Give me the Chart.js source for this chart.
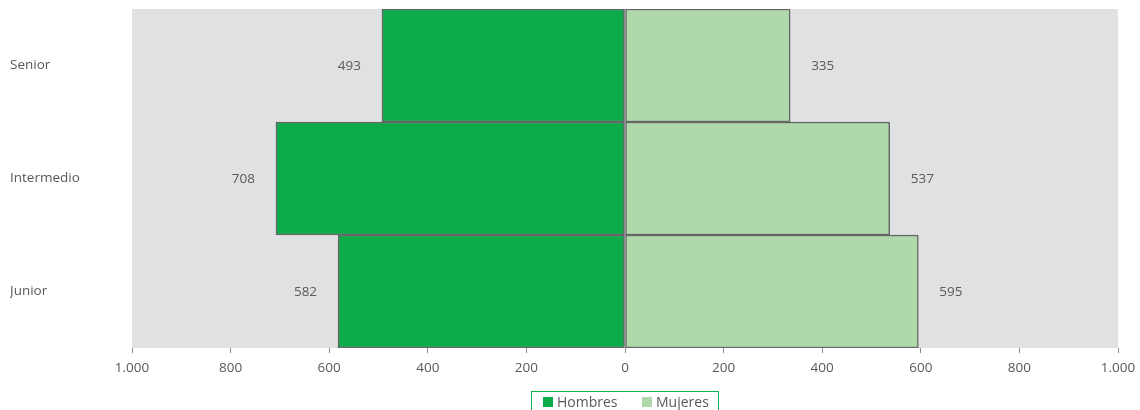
<!DOCTYPE html>
<html>
<head>
<meta charset="utf-8">
<script src="https://cdn.jsdelivr.net/npm/chart.js@4.4.0/dist/chart.umd.min.js"></script>
<style>
  html, body { margin: 0; padding: 0; background: #fff; overflow: hidden; }
  #wrap { width: 1140px; height: 410px; position: relative; }
  #legend {
    position: absolute; left: 531px; top: 391px; width: 188px; height: 26px;
    border: 1px solid #10b04c; box-sizing: border-box; z-index: 2;
    font: 14px 'Open Sans', 'Liberation Sans', sans-serif; color: #595959;
  }
  #legend span { position: absolute; top: 0px; line-height: 19px; white-space: nowrap; }
  #legend i { display: inline-block; width: 10px; height: 10px; margin-right: 4px; }
</style>
</head>
<body>
<div id="wrap">
  <canvas id="pyramid"></canvas>
  <div id="legend"></div>
</div>
<script>
// Data
const categories = ['Senior', 'Intermedio', 'Junior'];
const hombres = [493, 708, 582];
const mujeres = [335, 537, 595];
const seriesNames = ['Hombres', 'Mujeres'];
const seriesColors = ['#0dab4a', '#afd8ab'];
const xTicks = [-1000, -800, -600, -400, -200, 0, 200, 400, 600, 800, 1000];

const TEXT = '#595959';
const FONT = "'Open Sans', 'Liberation Sans', sans-serif";
const FSIZE = 13.5;

function fmt(v) {
    return Math.abs(v).toLocaleString('de-DE');
}

// grey plot background
const plotBg = {
    id: 'plotBg',
    beforeDraw(chart) {
        const a = chart.chartArea, c = chart.ctx;
        c.save();
        c.fillStyle = '#e0e1e3';
        c.fillRect(a.left, a.top, a.right - a.left, a.bottom - a.top);
        c.restore();
    }
};

// value labels just outside each bar end
const endLabels = {
    id: 'endLabels',
    afterDatasetsDraw(chart) {
        const c = chart.ctx;
        c.save();
        c.font = FSIZE + 'px ' + FONT;
        c.fillStyle = TEXT;
        c.textBaseline = 'middle';
        chart.data.datasets.forEach((ds, i) => {
            chart.getDatasetMeta(i).data.forEach((bar, j) => {
                const v = ds.data[j];
                if (v < 0) {
                    c.textAlign = 'right';
                    c.fillText(fmt(v), bar.x - 21, bar.y + 1);
                } else {
                    c.textAlign = 'left';
                    c.fillText(fmt(v), bar.x + 21, bar.y + 1);
                }
            });
        });
        c.restore();
    }
};

// legend as html, same names and colours as the datasets
const legendOffsets = [11, 110];
document.getElementById('legend').innerHTML = seriesNames.map((n, i) =>
    `<span style="left:${legendOffsets[i]}px"><i style="background:${seriesColors[i]}"></i>${n}</span>`
).join('');

const ctx = document.getElementById('pyramid').getContext('2d');
new Chart(ctx, {
    type: 'bar',
    data: {
        labels: categories,
        datasets: [{
            label: seriesNames[0],
            data: hombres.map(v => -v),
            backgroundColor: seriesColors[0],
            borderColor: '#666666',
            borderWidth: 1.5,
            borderSkipped: false
        }, {
            label: seriesNames[1],
            data: mujeres,
            backgroundColor: seriesColors[1],
            borderColor: '#666666',
            borderWidth: 1.5,
            borderSkipped: false
        }]
    },
    options: {
        indexAxis: 'y',
        responsive: true,
        maintainAspectRatio: false,
        animation: false,
        barPercentage: 1,
        categoryPercentage: 1,
        layout: { padding: { left: 10, right: 22, top: 9, bottom: 32 } },
        scales: {
            x: {
                stacked: true,
                min: -1000,
                max: 1000,
                afterBuildTicks(scale) {
                    scale.ticks = xTicks.map(v => ({ value: v }));
                },
                afterFit(scale) {
                    scale.height = 30;
                    scale.paddingLeft = 0;
                    scale.paddingRight = 0;
                },
                grid: {
                    drawOnChartArea: false,
                    drawTicks: true,
                    tickLength: 5,
                    color: '#8c8c8c'
                },
                border: { display: false },
                ticks: {
                    color: TEXT,
                    font: { family: FONT, size: FSIZE },
                    padding: 7,
                    maxRotation: 0,
                    callback: v => fmt(v)
                }
            },
            y: {
                stacked: true,
                afterFit(scale) { scale.width = 122; },
                grid: { display: false, drawTicks: false },
                border: { display: false },
                ticks: {
                    color: TEXT,
                    font: { family: FONT, size: FSIZE },
                    crossAlign: 'far',
                    padding: 0
                }
            }
        },
        plugins: {
            legend: { display: false },
            tooltip: { enabled: false }
        }
    },
    plugins: [plotBg, endLabels]
});
</script>
</body>
</html>
